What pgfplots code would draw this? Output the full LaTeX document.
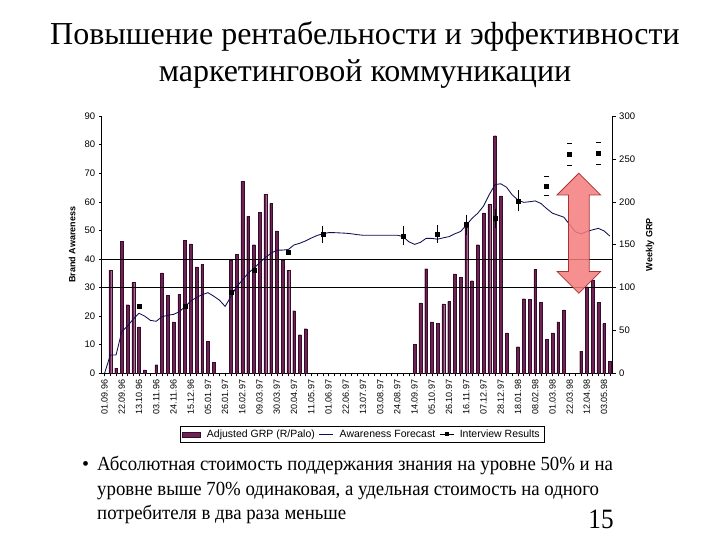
\documentclass[border=0pt]{standalone}
\usepackage{fontspec}
\setmainfont{Liberation Serif}
\setsansfont{Liberation Sans}
\usepackage{graphicx}
\usepackage{pgfplots}
\usepackage{pgfplotstable}
\pgfplotsset{compat=1.18}

\definecolor{grpbar}{RGB}{110,35,85}
\definecolor{grpedge}{RGB}{55,12,42}
\definecolor{fcline}{RGB}{15,15,85}
\definecolor{arrowfill}{RGB}{245,125,125}
\definecolor{arrowedge}{RGB}{170,50,50}

\pgfplotsset{
  swatch legend/.style={legend image code/.code={\draw[fill=grpbar,draw=grpedge] (0bp,-2.5bp) rectangle (18bp,2.5bp);}},
  short line legend/.style={legend image code/.code={\draw[##1] plot coordinates {(0bp,0bp) (7bp,0bp) (14bp,0bp)};}},
}

% weekly GRP (right axis), week 0 = 01.09.96
\pgfplotstableread{
wk grp
1 120
2 6
3 154
4 80
5 106
6 54
7 4
9 10
10 117
11 91
12 60
13 92
14 155
15 151
16 124
17 127
18 37
19 13
22 132
23 139
24 224
25 183
26 150
27 188
28 209
29 198
30 166
31 132
32 120
33 73
34 45
35 52
54 34
55 82
56 122
57 60
58 58
59 81
60 84
61 116
62 112
63 170
64 108
65 150
66 187
67 197
68 277
69 207
70 47
72 31
73 87
74 86
75 121
76 83
77 40
78 47
79 60
80 74
83 26
84 101
85 109
86 83
87 58
88 14
}\grpdata

% awareness forecast (left axis)
\pgfplotstableread{
wk aw
0 0
1 6.4
2 6.4
3 14.6
4 16.5
5 19.0
6 21.0
7 20.0
8 18.5
9 18.2
10 19.8
11 20.3
12 20.6
13 21.5
14 23.3
15 25.3
16 26.5
17 27.5
18 28.2
19 27.0
20 25.6
21 23.4
22 26.8
23 30.3
24 32.6
25 35.0
26 36.7
27 38.7
28 40.5
29 42.0
30 43.1
31 43.1
32 43.3
33 44.9
34 45.5
35 46.3
36 47.3
37 48.2
38 48.8
39 49.2
40 49.2
41 49.1
42 49.0
43 48.8
44 48.5
45 48.3
46 48.3
47 48.3
48 48.3
49 48.3
50 48.3
51 48.3
52 47.8
53 46.0
54 45.1
55 45.8
56 47.2
57 47.2
58 46.9
59 47.4
60 47.8
61 48.8
62 49.6
63 51.8
64 54.2
65 56.0
66 58.5
67 62.5
68 66.0
69 66.3
70 65.1
71 62.4
72 60.6
73 59.8
74 60.0
75 60.3
76 59.4
77 57.6
78 56.0
79 55.3
80 54.6
81 52.0
82 49.5
83 48.8
84 49.6
85 50.2
86 50.7
87 49.8
88 48.0
}\forecast

% interview results
\pgfplotstableread{
wk val
6 23.3
14 23.3
22 28.3
26 36.1
32 42.4
}\intearly
\pgfplotstableread{
wk val err
38 48.6 2.2
52 48.1 2.5
58 48.8 2.2
63 52.0 2.6
68 54.2 2.5
72 60.3 2.8
}\intmid
\pgfplotstableread{
wk val err
77 65.5 3.4
81 76.6 3.8
86 77.0 3.9
}\intlate

\newcommand{\bodyfont}{\fontsize{20bp}{24bp}\selectfont}
\newcommand{\bodyline}[1]{\scalebox{0.94}[1]{#1}}

\begin{document}
\begin{tikzpicture}[x=1bp,y=1bp]
\useasboundingbox (0,0) rectangle (720,-540);

\node[anchor=base,font=\fontsize{32bp}{37bp}\selectfont] at (365,-45) {Повышение рентабельности и эффективности};
\node[anchor=base,font=\fontsize{32bp}{37bp}\selectfont] at (365,-82) {маркетинговой коммуникации};

\pgfplotsset{
  every axis/.append style={
    scale only axis, width=511bp, height=257.3bp,
    at={(101.7bp,-373.3bp)}, anchor=south west,
    xmin=-0.5, xmax=88.5,
    axis line style={black,line width=0.6pt},
    tick style={black,line width=0.5pt},
    tick align=outside,
    major tick length=3bp, minor tick length=3bp,
    /pgf/number format/assume math mode=true,
    yticklabel style={font=\sffamily\fontsize{9.5bp}{10bp}\selectfont},
  }
}

\begin{axis}[
  ybar, bar width=2.8bp,
  ymin=0, ymax=300,
  axis y line*=right, axis x line*=bottom,
  ytick={0,50,...,300},
  xtick={0,3,...,87},
  minor xtick={0,...,88},
  xticklabels={01.09.96,22.09.96,13.10.96,03.11.96,24.11.96,15.12.96,05.01.97,26.01.97,16.02.97,09.03.97,30.03.97,20.04.97,11.05.97,01.06.97,22.06.97,13.07.97,03.08.97,24.08.97,14.09.97,05.10.97,26.10.97,16.11.97,07.12.97,28.12.97,18.01.98,08.02.98,01.03.98,22.03.98,12.04.98,03.05.98},
  xticklabel style={rotate=90,anchor=east,font=\sffamily\fontsize{9bp}{10bp}\selectfont},
  ylabel={Weekly GRP},
  ylabel style={at={(axis description cs:1.073,0.5)},anchor=center,font=\sffamily\bfseries\fontsize{9bp}{10bp}\selectfont},
]
\addplot[fill=grpbar,draw=grpedge,line width=0.3pt] table[x=wk,y=grp]{\grpdata};
\end{axis}

\begin{axis}[
  ymin=0, ymax=90,
  axis y line*=left, axis x line=none,
  ytick={0,10,...,90},
  ylabel={Brand Awareness},
  ylabel style={at={(axis description cs:-0.058,0.5)},anchor=center,font=\sffamily\bfseries\fontsize{9bp}{10bp}\selectfont},
  legend columns=3,
  legend style={at={(0.5096,-0.237)},anchor=center,draw=black,line width=0.5pt,
    font=\sffamily\fontsize{10.5bp}{12bp}\selectfont,inner xsep=2bp,inner ysep=1.5bp,
    /tikz/every even column/.append style={column sep=2bp},
    /tikz/every odd column/.append style={column sep=4bp}},
  legend cell align=left,
]
\addlegendimage{swatch legend}
\addlegendentry{Adjusted GRP (R/Palo)}
\addlegendimage{fcline,line width=0.8pt,short line legend}
\addlegendentry{Awareness Forecast}
\addlegendimage{black,line width=0.6pt,mark=square*,mark size=1.5bp,mark repeat=2,mark phase=2,short line legend}
\addlegendentry{Interview Results}

\addplot[black,line width=0.6pt,forget plot] coordinates {(-0.5,30) (88.5,30)};
\addplot[black,line width=0.6pt,forget plot] coordinates {(-0.5,40) (88.5,40)};
\addplot[fcline,line width=0.85pt,forget plot] table[x=wk,y=aw]{\forecast};

\addplot[black,only marks,mark=square*,mark size=2bp,forget plot] table[x=wk,y=val]{\intearly};
\addplot[black,only marks,mark=square*,mark size=2bp,forget plot,
  error bars/.cd,y dir=both,y explicit,
  error bar style={line width=0.6pt},
  error mark options={line width=0.6pt,mark size=2.5bp}]
  table[x=wk,y=val,y error=err]{\intmid};
\addplot[black,only marks,mark=square*,mark size=2bp,forget plot] table[x=wk,y=val]{\intlate};
\addplot[black,only marks,mark=-,mark size=2.5bp,line width=0.6pt,forget plot] table[x=wk,y expr=\thisrow{val}+\thisrow{err}]{\intlate};
\addplot[black,only marks,mark=-,mark size=2.5bp,line width=0.6pt,forget plot] table[x=wk,y expr=\thisrow{val}-\thisrow{err}]{\intlate};

\draw[draw=arrowedge,fill=arrowfill,fill opacity=0.85,line width=0.8pt,line join=miter]
  (axis cs:82.6,70) -- (axis cs:86.38,62.4) -- (axis cs:84.4,62.4) -- (axis cs:84.4,35.6)
  -- (axis cs:86.38,35.6) -- (axis cs:82.6,28) -- (axis cs:78.82,35.6) -- (axis cs:80.8,35.6)
  -- (axis cs:80.8,62.4) -- (axis cs:78.82,62.4) -- cycle;
\end{axis}

\node[anchor=base west,font=\bodyfont,inner sep=0pt] at (82,-470) {•};
\node[anchor=base west,font=\bodyfont,inner sep=0pt] at (97,-470) {\bodyline{Абсолютная стоимость поддержания знания на уровне 50\% и на}};
\node[anchor=base west,font=\bodyfont,inner sep=0pt] at (97,-495) {\bodyline{уровне выше 70\% одинаковая, а удельная стоимость на одного}};
\node[anchor=base west,font=\bodyfont,inner sep=0pt] at (97,-519) {\bodyline{потребителя в два раза меньше}};
\node[anchor=base,font=\fontsize{28bp}{32bp}\selectfont] at (601,-528) {\scalebox{0.9}[1]{15}};
\end{tikzpicture}
\end{document}
